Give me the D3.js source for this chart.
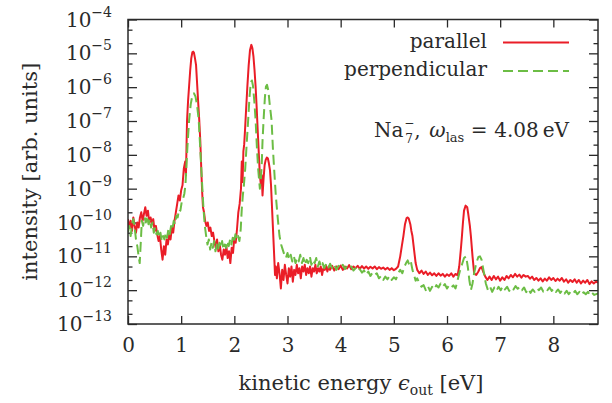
<!DOCTYPE html>
<html><head><meta charset="utf-8">
<script src="https://cdn.jsdelivr.net/npm/d3@7"></script>
<style>body{margin:0;background:#fff}svg{display:block}</style>
</head><body>
<script>
// ---- data (energy in eV, intensity in arb. units) ----
const parallel = [
[0.000,1.26e-10],[0.025,7.08e-11],[0.050,1.12e-10],[0.075,5.62e-11],[0.100,1.41e-10],[0.125,7.94e-11],[0.150,5.01e-11],[0.175,1.0e-10],
[0.200,7.08e-11],[0.225,1.41e-10],[0.250,2.0e-10],[0.275,1.12e-10],[0.300,1.78e-10],[0.325,2.82e-10],[0.350,1.58e-10],[0.375,2.24e-10],
[0.400,1.0e-10],[0.425,1.41e-10],[0.450,8.91e-11],[0.475,1.26e-10],[0.500,5.62e-11],[0.525,7.94e-11],[0.550,4.47e-11],[0.575,2.82e-11],
[0.600,3.98e-11],[0.625,1.58e-11],[0.650,7.94e-12],[0.675,2.0e-11],[0.700,1.12e-11],[0.725,3.16e-11],[0.750,2.24e-11],[0.775,4.47e-11],
[0.800,3.16e-11],[0.825,7.08e-11],[0.850,5.01e-11],[0.875,1.12e-10],[0.900,2.0e-10],[0.925,3.55e-10],[0.950,6.31e-10],[0.975,4.47e-10],
[1.000,8.91e-10],[1.025,1.26e-9],[1.050,3.98e-9],[1.075,6.31e-9],[1.090,2.51e-9],[1.100,1.58e-8],[1.110,1.0e-7],[1.130,3.98e-7],
[1.150,1.12e-6],[1.170,3.16e-6],[1.190,7.08e-6],[1.210,1.07e-5],[1.225,1.12e-5],[1.240,1.05e-5],[1.260,7.08e-6],[1.280,4.47e-6],
[1.300,1.26e-6],[1.320,3.55e-7],[1.340,1.07e-7],[1.360,2.51e-8],[1.380,3.16e-9],[1.395,7.94e-10],[1.410,2.82e-10],[1.430,2.0e-10],
[1.450,1.12e-10],[1.475,7.94e-11],[1.500,1.0e-10],[1.525,5.62e-11],[1.550,7.08e-11],[1.575,3.98e-11],[1.600,5.01e-11],[1.625,2.82e-11],
[1.650,1.78e-11],[1.675,3.16e-11],[1.700,1.41e-11],[1.725,2.24e-11],[1.750,1.12e-11],[1.775,7.94e-12],[1.800,1.58e-11],[1.825,1.12e-11],
[1.850,2.0e-11],[1.875,8.91e-12],[1.900,1.41e-11],[1.925,6.31e-12],[1.950,1.78e-11],[1.975,1.26e-11],[2.000,3.55e-11],[2.025,2.51e-11],
[2.050,6.31e-11],[2.075,2.0e-10],[2.100,3.55e-10],[2.125,1.0e-9],[2.140,6.31e-9],[2.155,1.58e-9],[2.170,1.26e-8],[2.185,2.0e-8],
[2.200,5.01e-8],[2.220,2.0e-7],[2.245,1.05e-6],[2.270,4.47e-6],[2.295,1.26e-5],[2.320,1.78e-5],[2.340,1.41e-5],[2.360,7.94e-6],
[2.380,3.16e-6],[2.400,1.05e-6],[2.420,2.51e-7],[2.440,5.01e-8],[2.460,1.12e-8],[2.480,2.51e-9],[2.500,1.26e-9],[2.515,2.51e-9],
[2.530,6.31e-10],[2.550,2.0e-9],[2.570,5.01e-9],[2.590,7.08e-9],[2.610,8.32e-9],[2.630,7.94e-9],[2.650,5.62e-9],[2.670,3.55e-9],
[2.690,1.26e-9],[2.710,2.51e-10],[2.730,5.01e-11],[2.750,1.0e-11],[2.765,2.82e-12],[2.780,5.01e-12],[2.800,2.24e-12],[2.825,6.31e-12],
[2.850,3.16e-12],[2.875,1.12e-12],[2.900,3.98e-12],[2.925,2.0e-12],[2.950,5.62e-12],[2.975,2.82e-12],[3.000,1.58e-12],[3.025,4.47e-12],
[3.050,2.51e-12],[3.075,5.01e-12],[3.100,1.78e-12],[3.125,3.98e-12],[3.150,2.82e-12],[3.175,5.62e-12],[3.200,3.16e-12],[3.225,4.47e-12],
[3.250,2.24e-12],[3.275,5.01e-12],[3.300,3.55e-12],[3.325,5.62e-12],[3.350,2.82e-12],[3.375,4.47e-12],[3.400,3.16e-12],[3.425,5.01e-12],
[3.450,2.51e-12],[3.475,4.47e-12],[3.500,3.55e-12],[3.525,5.62e-12],[3.550,3.16e-12],[3.575,4.47e-12],[3.600,3.55e-12],[3.625,5.01e-12],
[3.650,2.82e-12],[3.675,4.47e-12],[3.700,3.98e-12],[3.725,5.25e-12],[3.750,3.55e-12],[3.775,5.01e-12],[3.800,3.98e-12],[3.84,5.25e-12],
[3.88,3.80e-12],[3.92,5.01e-12],[3.96,4.17e-12],[4.00,5.37e-12],[4.04,3.98e-12],[4.08,5.01e-12],[4.12,4.37e-12],[4.16,5.50e-12],
[4.20,4.17e-12],[4.24,5.01e-12],[4.28,4.47e-12],[4.32,5.25e-12],[4.36,4.27e-12],[4.40,5.13e-12],[4.44,4.37e-12],[4.48,5.01e-12],
[4.52,4.27e-12],[4.56,4.90e-12],[4.60,4.37e-12],[4.64,5.01e-12],[4.68,4.17e-12],[4.72,4.79e-12],[4.76,4.27e-12],[4.80,4.68e-12],
[4.84,4.07e-12],[4.88,4.57e-12],[4.92,3.98e-12],[4.96,4.47e-12],[5.00,3.89e-12],[5.04,4.27e-12],[5.08,5.01e-12],[5.12,1.0e-11],
[5.15,2.0e-11],[5.18,3.98e-11],[5.21,8.91e-11],[5.24,1.35e-10],[5.26,1.41e-10],[5.28,1.32e-10],[5.31,8.91e-11],[5.33,5.62e-11],
[5.35,3.98e-11],[5.38,1.58e-11],[5.41,6.31e-12],[5.44,3.98e-12],[5.48,3.16e-12],[5.52,3.80e-12],[5.56,3.02e-12],[5.60,3.55e-12],
[5.64,2.82e-12],[5.68,3.31e-12],[5.72,2.75e-12],[5.76,3.16e-12],[5.80,2.63e-12],[5.84,3.16e-12],[5.88,2.69e-12],[5.92,3.02e-12],
[5.96,2.51e-12],[6.00,2.95e-12],[6.04,2.63e-12],[6.08,3.16e-12],[6.12,2.51e-12],[6.16,3.02e-12],[6.20,2.75e-12],[6.23,5.01e-12],
[6.26,1.58e-11],[6.28,3.80e-11],[6.30,1.0e-10],[6.32,2.24e-10],[6.35,3.16e-10],[6.38,2.82e-10],[6.40,1.78e-10],[6.43,7.94e-11],
[6.45,3.80e-11],[6.48,1.0e-11],[6.51,3.16e-12],[6.55,2.82e-12],[6.59,3.55e-12],[6.62,4.47e-12],[6.65,4.79e-12],[6.68,3.55e-12],
[6.72,2.51e-12],[6.76,2.0e-12],[6.80,2.51e-12],[6.84,2.0e-12],[6.88,2.63e-12],[6.92,2.09e-12],[6.96,2.51e-12],[7.00,1.91e-12],
[7.04,2.40e-12],[7.08,2.0e-12],[7.12,2.63e-12],[7.16,2.24e-12],[7.20,2.82e-12],[7.24,2.40e-12],[7.28,3.02e-12],[7.32,2.51e-12],
[7.36,2.88e-12],[7.40,2.34e-12],[7.44,2.82e-12],[7.48,2.51e-12],[7.52,2.63e-12],[7.56,2.19e-12],[7.60,2.51e-12],[7.64,2.0e-12],
[7.68,2.29e-12],[7.72,1.91e-12],[7.76,2.24e-12],[7.80,1.82e-12],[7.84,2.19e-12],[7.88,1.91e-12],[7.92,2.40e-12],[7.96,2.0e-12],
[8.00,2.29e-12],[8.04,1.86e-12],[8.08,2.19e-12],[8.12,1.91e-12],[8.16,2.29e-12],[8.20,1.78e-12],[8.24,2.09e-12],[8.28,1.66e-12],
[8.32,2.0e-12],[8.36,1.74e-12],[8.40,2.09e-12],[8.44,1.66e-12],[8.48,2.0e-12],[8.52,1.58e-12],[8.56,1.91e-12],[8.60,1.66e-12],
[8.64,2.0e-12],[8.68,1.51e-12],[8.72,1.82e-12],[8.76,1.58e-12],[8.80,1.78e-12],[8.84,1.66e-12]
];
const perpendicular = [
[0.000,5.01e-11],[0.025,7.94e-11],[0.050,3.98e-11],[0.075,8.91e-11],[0.100,1.26e-10],[0.125,7.08e-11],[0.150,3.16e-11],[0.175,2.0e-11],
[0.200,1.0e-11],[0.220,6.31e-12],[0.240,2.51e-11],[0.260,1.12e-10],[0.285,7.94e-11],[0.310,1.41e-10],[0.335,1.0e-10],[0.360,1.58e-10],
[0.385,8.91e-11],[0.410,1.26e-10],[0.435,7.08e-11],[0.460,1.0e-10],[0.485,5.01e-11],[0.510,7.08e-11],[0.535,4.47e-11],[0.560,5.62e-11],
[0.585,3.55e-11],[0.610,5.01e-11],[0.635,2.82e-11],[0.660,3.98e-11],[0.685,3.16e-11],[0.710,5.01e-11],[0.735,3.55e-11],[0.760,6.31e-11],
[0.785,4.47e-11],[0.810,7.94e-11],[0.835,6.31e-11],[0.860,1.12e-10],[0.885,8.91e-11],[0.910,1.58e-10],[0.935,1.41e-10],[0.960,2.51e-10],
[0.985,2.24e-10],[1.010,3.98e-10],[1.035,5.01e-10],[1.060,7.08e-10],[1.080,1.26e-9],[1.100,5.01e-9],[1.120,2.0e-8],[1.150,1.07e-7],
[1.180,3.16e-7],[1.210,5.62e-7],[1.240,6.61e-7],[1.270,5.25e-7],[1.300,2.82e-7],[1.330,1.07e-7],[1.355,2.0e-8],[1.380,3.55e-9],
[1.400,9.12e-10],[1.420,2.51e-10],[1.445,7.94e-11],[1.470,3.98e-11],[1.495,2.24e-11],[1.520,3.16e-11],[1.545,1.58e-11],[1.570,2.51e-11],
[1.595,1.78e-11],[1.620,2.82e-11],[1.645,1.41e-11],[1.670,2.24e-11],[1.695,1.58e-11],[1.720,2.51e-11],[1.745,1.78e-11],[1.770,2.82e-11],
[1.795,1.58e-11],[1.820,2.24e-11],[1.845,1.78e-11],[1.870,2.82e-11],[1.895,2.0e-11],[1.920,3.16e-11],[1.945,2.24e-11],[1.970,3.55e-11],
[1.995,2.51e-11],[2.020,4.47e-11],[2.045,3.16e-11],[2.070,3.98e-11],[2.095,2.82e-11],[2.120,6.31e-11],[2.140,2.51e-10],[2.160,6.31e-10],
[2.180,1.26e-9],[2.205,3.98e-9],[2.235,2.51e-8],[2.260,1.07e-7],[2.285,5.01e-7],[2.310,1.41e-6],[2.330,1.58e-6],[2.350,1.12e-6],
[2.375,3.98e-7],[2.400,1.07e-7],[2.425,1.58e-8],[2.450,3.55e-9],[2.480,1.0e-9],[2.500,2.0e-9],[2.515,5.01e-9],[2.530,2.51e-8],
[2.550,1.07e-7],[2.575,5.01e-7],[2.595,1.05e-6],[2.615,1.17e-6],[2.640,7.94e-7],[2.665,3.16e-7],[2.700,1.07e-7],[2.725,1.58e-8],
[2.750,3.55e-9],[2.780,6.31e-10],[2.820,1.17e-10],[2.850,3.98e-11],[2.880,2.24e-11],[2.910,1.58e-11],[2.940,1.12e-11],[2.970,8.91e-12],
[3.000,1.26e-11],[3.030,7.94e-12],[3.060,1.12e-11],[3.090,7.08e-12],[3.120,1.0e-11],[3.150,6.31e-12],[3.180,8.91e-12],[3.210,7.08e-12],
[3.240,1.12e-11],[3.270,6.31e-12],[3.300,8.91e-12],[3.330,5.62e-12],[3.360,7.94e-12],[3.390,6.31e-12],[3.420,1.0e-11],[3.450,5.62e-12],
[3.480,7.94e-12],[3.510,6.31e-12],[3.540,8.91e-12],[3.570,5.01e-12],[3.600,7.08e-12],[3.630,5.01e-12],[3.660,6.31e-12],[3.690,4.47e-12],
[3.720,5.62e-12],[3.760,4.17e-12],[3.800,6.03e-12],[3.840,4.47e-12],[3.880,5.62e-12],[3.920,3.98e-12],[3.960,5.25e-12],[4.000,4.37e-12],
[4.040,5.62e-12],[4.080,4.17e-12],[4.120,5.25e-12],[4.160,4.47e-12],[4.200,5.01e-12],[4.240,3.80e-12],[4.280,4.47e-12],[4.320,3.55e-12],
[4.360,4.17e-12],[4.400,3.31e-12],[4.440,3.80e-12],[4.480,2.82e-12],[4.520,3.55e-12],[4.560,2.63e-12],[4.600,3.31e-12],[4.640,2.82e-12],
[4.680,3.16e-12],[4.720,2.24e-12],[4.760,2.63e-12],[4.800,2.0e-12],[4.840,2.51e-12],[4.880,2.09e-12],[4.920,2.63e-12],[4.960,2.0e-12],
[5.000,2.40e-12],[5.040,2.09e-12],[5.080,3.16e-12],[5.120,3.98e-12],[5.160,3.16e-12],[5.200,5.01e-12],[5.230,6.31e-12],[5.260,7.59e-12],
[5.290,5.62e-12],[5.320,7.08e-12],[5.350,3.98e-12],[5.380,2.82e-12],[5.410,1.91e-12],[5.440,2.24e-12],[5.480,1.58e-12],[5.520,1.26e-12],
[5.560,1.41e-12],[5.600,1.0e-12],[5.640,1.32e-12],[5.680,9.55e-13],[5.720,1.26e-12],[5.760,1.05e-12],[5.800,1.41e-12],[5.840,1.20e-12],
[5.880,1.58e-12],[5.920,1.26e-12],[5.960,1.51e-12],[6.000,1.12e-12],[6.040,1.41e-12],[6.080,1.20e-12],[6.120,1.38e-12],[6.160,1.12e-12],
[6.200,2.0e-12],[6.240,3.55e-12],[6.280,5.62e-12],[6.320,8.91e-12],[6.360,1.0e-11],[6.390,5.01e-12],[6.420,2.0e-12],[6.450,1.0e-12],
[6.480,1.58e-12],[6.510,3.16e-12],[6.550,6.31e-12],[6.590,9.55e-12],[6.620,1.0e-11],[6.650,7.94e-12],[6.690,3.55e-12],[6.730,1.58e-12],
[6.770,1.0e-12],[6.810,1.26e-12],[6.850,8.91e-13],[6.890,1.20e-12],[6.930,9.55e-13],[6.970,1.26e-12],[7.010,1.0e-12],[7.050,1.32e-12],
[7.090,1.05e-12],[7.130,1.26e-12],[7.170,9.55e-13],[7.210,1.20e-12],[7.250,1.05e-12],[7.290,1.32e-12],[7.330,1.10e-12],[7.370,1.26e-12],
[7.410,1.0e-12],[7.450,1.20e-12],[7.490,8.71e-13],[7.530,1.10e-12],[7.570,8.32e-13],[7.610,1.05e-12],[7.650,8.91e-13],[7.690,1.15e-12],
[7.730,1.0e-12],[7.770,1.20e-12],[7.810,9.12e-13],[7.850,1.10e-12],[7.890,1.0e-12],[7.930,1.20e-12],[7.970,9.55e-13],[8.010,1.12e-12],
[8.050,8.91e-13],[8.090,1.05e-12],[8.130,8.32e-13],[8.170,1.0e-12],[8.210,7.94e-13],[8.250,9.55e-13],[8.290,7.59e-13],[8.330,9.12e-13],
[8.370,7.94e-13],[8.410,9.55e-13],[8.450,7.59e-13],[8.490,8.91e-13],[8.530,7.24e-13],[8.570,8.71e-13],[8.610,7.59e-13],[8.650,8.91e-13],
[8.690,7.08e-13],[8.730,8.32e-13],[8.770,7.24e-13],[8.840,7.94e-13]
];
const xTickValues = [0,1,2,3,4,5,6,7,8];
const yTickExponents = [-13,-12,-11,-10,-9,-8,-7,-6,-5,-4];
const yMinorMantissas = [2,5];
const seriesNames = ["parallel","perpendicular"];
const annotation = {species:"Na", charge:"\u2212", count:"7", omegaSub:"las", energy:"4.08\u2009eV"};

// ---- layout ----
const W = 612, H = 403;
const L = 128, R = 598, T = 19.5, B = 324;
const RED = "#ea1d27", GREEN = "#6cbd45";
const FONT = "'DejaVu Serif', 'Liberation Serif', serif";
const INK = "#2a2a2a";

const svg = d3.select("body").append("svg").attr("width", W).attr("height", H)
  .attr("font-family", FONT);
svg.append("rect").attr("width", W).attr("height", H).attr("fill", "#fff");

const x = d3.scaleLinear().domain([0, 8.84]).range([L, R]);
const y = d3.scaleLog().domain([1e-13, 1e-4]).range([B, T]);

const yMajor = yTickExponents.map(e => Math.pow(10, e));
const yMinor = [];
yTickExponents.forEach(e => yMinorMantissas.forEach(m => { const v = m * Math.pow(10, e); if (v < 1e-4) yMinor.push(v); }));

function styleAxis(g) { g.select(".domain").remove(); g.attr("font-family", FONT); g.selectAll("line").attr("stroke", INK).attr("stroke-width", 1.3); }

// bottom axis
svg.append("g").attr("transform", `translate(0,${B})`)
  .call(d3.axisBottom(x).tickValues(xTickValues).tickSize(-8).tickPadding(14).tickFormat(d3.format("d")))
  .call(styleAxis)
  .call(g => g.selectAll("text").attr("font-size", 20).attr("fill", INK).attr("font-family", FONT));
// top axis
svg.append("g").attr("transform", `translate(0,${T})`)
  .call(d3.axisTop(x).tickValues(xTickValues).tickSize(-8).tickFormat(""))
  .call(styleAxis);
// left axis
svg.append("g").attr("transform", `translate(${L},0)`)
  .call(d3.axisLeft(y).tickValues(yMajor).tickSize(-9).tickFormat(""))
  .call(styleAxis);
svg.append("g").attr("transform", `translate(${L},0)`)
  .call(d3.axisLeft(y).tickValues(yMinor).tickSize(-4.5).tickFormat(""))
  .call(styleAxis);
// right axis
svg.append("g").attr("transform", `translate(${R},0)`)
  .call(d3.axisRight(y).tickValues(yMajor).tickSize(-9).tickFormat(""))
  .call(styleAxis);
svg.append("g").attr("transform", `translate(${R},0)`)
  .call(d3.axisRight(y).tickValues(yMinor).tickSize(-4.5).tickFormat(""))
  .call(styleAxis);

// y tick labels 10^n
yTickExponents.forEach(e => {
  const t = svg.append("text").attr("x", 112).attr("y", y(Math.pow(10, e)) + 7)
    .attr("text-anchor", "end").attr("font-size", 20).attr("fill", INK);
  t.append("tspan").text("10");
  t.append("tspan").attr("dy", -10).attr("font-size", 14).text("\u2212" + Math.abs(e));
});

// clip & data lines
svg.append("clipPath").attr("id", "clip").append("rect").attr("x", L).attr("y", T).attr("width", R - L).attr("height", B - T);
const line = d3.line().x(d => x(d[0])).y(d => y(d[1]));
const plot = svg.append("g").attr("clip-path", "url(#clip)");
plot.append("path").datum(parallel).attr("d", line).attr("fill", "none")
  .attr("stroke", RED).attr("stroke-width", 2).attr("stroke-linejoin", "round");
plot.append("path").datum(perpendicular).attr("d", line).attr("fill", "none")
  .attr("stroke", GREEN).attr("stroke-width", 2).attr("stroke-dasharray", "10,5").attr("stroke-linejoin", "round");

// frame
svg.append("rect").attr("x", L).attr("y", T).attr("width", R - L).attr("height", B - T)
  .attr("fill", "none").attr("stroke", INK).attr("stroke-width", 1.5);

// legend
const legend = [{name: seriesNames[0], color: RED, dash: null, y: 42.5},
                {name: seriesNames[1], color: GREEN, dash: "10,5", y: 71}];
legend.forEach(l => {
  svg.append("text").attr("x", 487).attr("y", l.y + 5).attr("text-anchor", "end").attr("font-size", 20)
    .attr("fill", INK).text(l.name);
  svg.append("line").attr("x1", 503).attr("x2", 569).attr("y1", l.y).attr("y2", l.y)
    .attr("stroke", l.color).attr("stroke-width", 2).attr("stroke-dasharray", l.dash);
});

// annotation: Na with stacked charge/count, comma, then omega_las = 4.08 eV
const anY = 137;
const an = svg.append("text").attr("x", 569).attr("y", anY).attr("text-anchor", "end").attr("font-size", 20).attr("fill", INK);
an.append("tspan").attr("font-style", "italic").text("\u03c9");
an.append("tspan").attr("dy", 5).attr("font-size", 13).text(annotation.omegaSub);
an.append("tspan").attr("dy", -5).text("\u2004=\u2004" + annotation.energy);
const S = 569 - an.node().getComputedTextLength();
svg.append("text").attr("x", S - 15).attr("y", anY).attr("font-size", 20).attr("fill", INK).text(",");
svg.append("text").attr("x", S - 25).attr("y", anY - 10).attr("font-size", 12).attr("fill", INK).text(annotation.charge);
svg.append("text").attr("x", S - 24).attr("y", anY + 6).attr("font-size", 12).attr("fill", INK).text(annotation.count);
svg.append("text").attr("x", S - 26).attr("y", anY).attr("text-anchor", "end").attr("font-size", 20).attr("fill", INK).text(annotation.species);

// axis titles
const xt = svg.append("text").attr("x", (L + R) / 2 - 2).attr("y", 390).attr("text-anchor", "middle").attr("font-size", 21).attr("fill", INK);
xt.append("tspan").text("kinetic energy ");
xt.append("tspan").attr("font-style", "italic").text("\u03f5");
xt.append("tspan").attr("dy", 5).attr("font-size", 14).text("out");
xt.append("tspan").attr("dy", -5).text(" [eV]");

svg.append("text").attr("transform", `translate(37,${(T + B) / 2}) rotate(-90)`)
  .attr("text-anchor", "middle").attr("font-size", 21).attr("fill", INK).text("intensity [arb. units]");
</script>
</body></html>
